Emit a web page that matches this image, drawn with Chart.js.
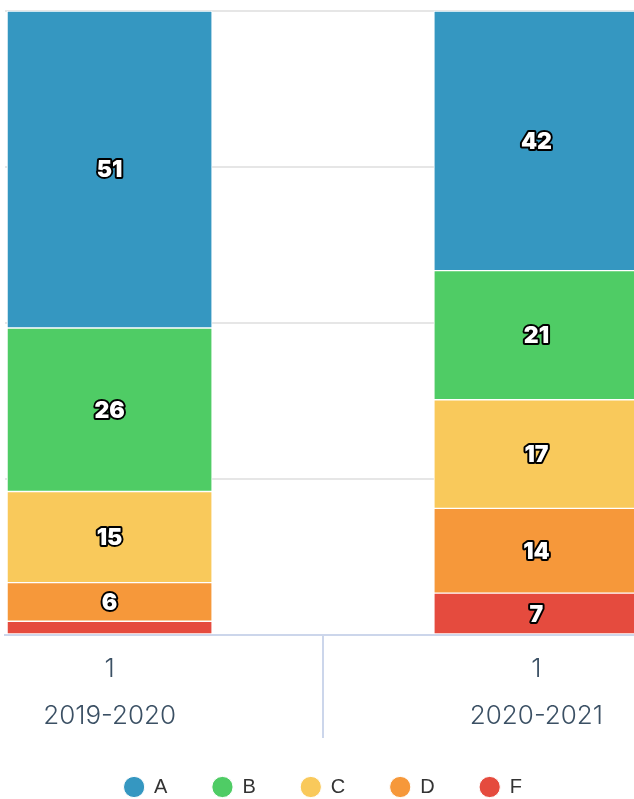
<!DOCTYPE html>
<html>
<head>
  <title>Notas por temporada</title>
  <style>
    html, body {
      margin: 0;
      padding: 0;
      overflow: hidden;
      background: #ffffff;
    }
    .chart-container {
      width: 646px;
      height: 807px;
    }
  </style>
</head>
<body>
  <div class="chart-container">
    <canvas id="gradesChart" width="646" height="807"></canvas>
  </div>

  <script src="https://cdn.jsdelivr.net/npm/chart.js"></script>
  <script>
    // datos (porcentaje de cada nota, la etiqueta va redondeada)
    const seasons = ['2019-2020', '2020-2021'];
    const groupLabels = ['1', '1'];
    const grades = ['A', 'B', 'C', 'D', 'F'];
    const gradeA = [50.8, 41.6];
    const gradeB = [26.2, 20.7];
    const gradeC = [14.6, 17.4];
    const gradeD = [6.2, 13.6];
    const gradeF = [2.2, 6.7];
    const colors = ['#3597c1', '#4fcc65', '#f9c95b', '#f6983a', '#e54b3e'];

    const series = [gradeA, gradeB, gradeC, gradeD, gradeF];

    // etiquetas blancas con contorno negro dentro de cada tramo
    const segmentLabels = {
      id: 'segmentLabels',
      afterDatasetsDraw(chart) {
        const ctx = chart.ctx;
        const area = chart.chartArea;
        ctx.save();
        ctx.font = '900 23px Inter';
        ctx.textAlign = 'center';
        ctx.textBaseline = 'middle';
        ctx.lineJoin = 'round';
        ctx.lineWidth = 4;
        ctx.strokeStyle = '#000000';
        ctx.fillStyle = '#ffffff';
        chart.data.datasets.forEach((ds, i) => {
          chart.getDatasetMeta(i).data.forEach((bar, j) => {
            const top = Math.max(Math.min(bar.y, bar.base), area.top);
            const bottom = Math.min(Math.max(bar.y, bar.base), area.bottom);
            if (bottom - top < 20) return;
            const text = String(Math.round(ds.data[j].y));
            const y = (top + bottom) / 2 + 1;
            ctx.strokeText(text, bar.x, y);
            ctx.fillText(text, bar.x, y);
          });
        });
        ctx.restore();
      }
    };

    function renderChart(canvasId) {
      const ctx = document.getElementById(canvasId).getContext('2d');
      // F abajo y A arriba: se apilan en orden inverso
      const datasets = grades.map((g, i) => ({
        label: g,
        data: series[i].map((v, j) => ({ x: j, y: v })),
        backgroundColor: colors[i],
        borderColor: '#ffffff',
        borderWidth: 1,
        borderSkipped: false,
        barThickness: 205,
        clip: 0
      })).reverse();

      new Chart(ctx, {
        type: 'bar',
        data: { datasets: datasets },
        options: {
          responsive: false,
          animation: false,
          layout: {
            padding: { top: 11, left: 5, right: 5, bottom: 0 }
          },
          scales: {
            x: {
              type: 'linear',
              stacked: true,
              offset: false,
              min: -0.245,
              max: 1.245,
              z: 1,
              afterBuildTicks: scale => {
                scale.ticks = [{ value: 0 }, { value: 0.5 }, { value: 1 }];
              },
              afterFit: scale => {
                scale.height = 97;
              },
              ticks: {
                autoSkip: false,
                maxRotation: 0,
                padding: -92.5,
                color: '#3b5064',
                font: { family: 'Inter', weight: 300, size: 26, lineHeight: 1.8 },
                callback: value => value === 0.5 ? '' : [groupLabels[value], seasons[value]]
              },
              grid: {
                offset: false,
                drawOnChartArea: false,
                drawTicks: true,
                tickLength: 103,
                lineWidth: 2,
                color: c => (c.tick && c.tick.value === 0.5) ? '#ccd6eb' : 'rgba(0,0,0,0)'
              },
              border: {
                display: true,
                color: '#ccd6eb',
                width: 2
              }
            },
            y: {
              stacked: true,
              min: 0,
              max: 100,
              ticks: {
                display: false,
                stepSize: 25
              },
              grid: {
                drawTicks: false,
                lineWidth: 2,
                color: c => (c.tick && c.tick.value === 0) ? 'rgba(0,0,0,0)' : '#e6e6e6'
              },
              border: { display: false }
            }
          },
          plugins: {
            legend: {
              position: 'bottom',
              reverse: true,
              labels: {
                usePointStyle: true,
                pointStyle: 'circle',
                boxWidth: 20,
                boxHeight: 15,
                padding: 45,
                color: '#333333',
                font: { family: 'Liberation Sans', size: 20 }
              }
            },
            tooltip: { enabled: false }
          }
        },
        plugins: [segmentLabels]
      });
    }

    renderChart('gradesChart');
  </script>
</body>
</html>
